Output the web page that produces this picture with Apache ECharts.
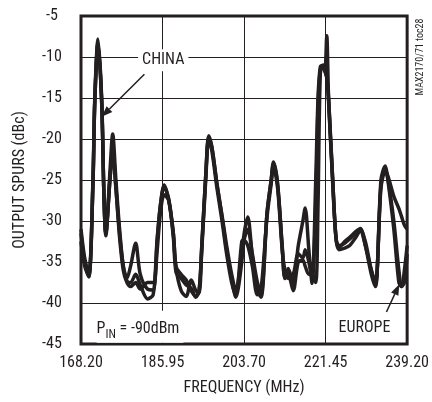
<!DOCTYPE html>
<html><head><meta charset="utf-8">
<script src="https://cdn.jsdelivr.net/npm/echarts@6/dist/echarts.min.js"></script>
<style>html,body{margin:0;padding:0;background:#fff}#c{width:432px;height:402px}</style>
</head><body><div id="c"></div>
<script>
// Axis definitions
const FREQ_MIN = 168.2, FREQ_MAX = 239.2, FREQ_STEP = 17.75;
const DB_MIN = -45, DB_MAX = -5, DB_STEP = 5;

// Frequency sample points (MHz)
const freq = [168.2,169.0,169.9,170.8,171.2,171.9,172.7,173.2,173.6,174.5,
  175.1,175.8,176.6,177.4,178.2,179.0,180.1,181.1,182.7,183.9,
  184.8,185.5,186.3,187.3,188.3,188.9,190.0,191.1,192.2,193.2,
  193.9,194.5,195.4,196.0,196.7,197.8,198.9,199.9,201.0,201.9,
  203.2,203.6,204.5,205.5,206.6,207.4,208.7,209.6,210.1,211.0,
  212.0,212.6,213.3,214.4,215.5,216.5,217.0,217.8,218.5,219.3,
  219.8,220.3,220.9,221.3,221.7,222.1,223.0,223.7,224.3,225.6,
  226.7,228.0,229.0,230.1,231.4,232.3,233.5,234.4,235.0,236.3,
  237.4,238.0,238.6,239.2];

// Output spurs (dBc)
const china = [-31.5,-35,-36.8,-25,-15,-7.8,-15,-27,-31.8,-24,
  -19.4,-25,-31,-35.5,-37,-35.5,-32.7,-36.5,-38.3,-38.4,
  -32.3,-28,-25.6,-27.5,-31.5,-35.6,-36.5,-37.2,-38.5,-39.2,
  -38.5,-33,-24,-19.6,-21,-25.5,-29.5,-33.5,-37,-39.3,
  -35,-32,-29.5,-34.3,-38.4,-39.3,-29,-25,-22.8,-25.5,
  -33.2,-37,-35.8,-37.5,-33,-30,-28.4,-33.5,-37.6,-25,
  -15,-11.2,-11,-11.7,-7.4,-15,-25,-32,-33.3,-32.5,
  -32,-31.3,-30.9,-33,-36.5,-38,-25,-23.3,-25,-31,
  -37.5,-38,-36,-33];
const europe = [-31,-34.5,-36.5,-25.5,-15.5,-8.2,-15.5,-27,-31.5,-25,
  -21.5,-26,-32,-36,-37.5,-38,-37.5,-38.3,-37.5,-37.5,
  -32,-28,-25.8,-27.3,-31.5,-35.8,-38.5,-39.2,-37.2,-38.5,
  -38.8,-33,-24,-19.8,-21,-25.5,-29.3,-33,-36.5,-38.5,
  -34,-32.5,-31,-34,-37.5,-38.8,-29,-25,-23,-25.5,
  -33,-37,-36.5,-38.5,-35,-34.8,-35.5,-36.5,-36.5,-37.5,
  -28,-12,-11,-11.7,-12.5,-15,-25,-32,-33.5,-33.3,
  -33,-32,-31.2,-33,-36,-37.8,-25.5,-23.5,-24.8,-30,
  -36,-38,-37.5,-34];
const third = [-32.5,-35.5,-36.8,-25.5,-15.5,-8.2,-15.5,-27,-31.5,-25,
  -21.3,-26,-31.5,-35.5,-37.3,-37.5,-36.5,-37.8,-39.5,-39,
  -33.5,-29,-26.8,-27.5,-32,-36.3,-37,-37.8,-38.2,-39.3,
  -38.5,-33.5,-24.5,-20,-21.5,-26,-30,-34,-37.5,-39,
  -32.5,-32.3,-33,-35.5,-39,-38.3,-29.5,-25.5,-23.3,-26,
  -33.5,-36,-37,-36.5,-34,-34.5,-33.5,-35,-37,-28,
  -16,-11.5,-11.2,-11.7,-12.5,-15.5,-25.5,-32,-33,-32.7,
  -32.2,-31.5,-31,-32.5,-36,-37.5,-26,-24,-24.5,-27,
  -28.5,-29.5,-30.5,-31];

const INK = '#231f20';
const FONT = "'Liberation Sans Narrow','Arial Narrow','Roboto Condensed','Liberation Sans',sans-serif";

const chart = echarts.init(document.getElementById('c'), null, {renderer: 'canvas'});

function pairs(vals) { return freq.map((f, i) => [f - FREQ_MIN, vals[i]]); }

const lineSeries = (name, vals) => ({
  name, type: 'line', data: pairs(vals), showSymbol: false, smooth: 0.3,
  lineStyle: {color: INK, width: 3.5}, z: 3, animation: false
});

chart.setOption({
  animation: false,
  backgroundColor: '#fff',
  grid: {left: 81, right: 22, top: 16, bottom: 58, show: true, borderColor: INK, borderWidth: 3, backgroundColor: 'transparent'},
  xAxis: {
    type: 'value', min: 0, max: FREQ_MAX - FREQ_MIN, interval: FREQ_STEP,
    name: 'FREQUENCY (MHz)', nameLocation: 'middle', nameGap: 36,
    nameTextStyle: {fontFamily: FONT, fontSize: 16, color: INK},
    axisLine: {show: false}, axisTick: {show: false},
    axisLabel: {fontFamily: FONT, fontSize: 16, color: INK, margin: 11,
      formatter: v => (v + FREQ_MIN).toFixed(2)},
    splitLine: {show: true, lineStyle: {color: INK, width: 1}}
  },
  yAxis: {
    type: 'value', min: DB_MIN, max: DB_MAX, interval: DB_STEP,
    name: 'OUTPUT SPURS (dBc)', nameLocation: 'middle', nameGap: 53,
    nameTextStyle: {fontFamily: FONT, fontSize: 16, color: INK},
    axisLine: {show: false}, axisTick: {show: false},
    axisLabel: {fontFamily: FONT, fontSize: 16, color: INK, margin: 29, align: 'center'},
    splitLine: {show: true, lineStyle: {color: INK, width: 1}}
  },
  series: [lineSeries('CHINA', china), lineSeries('EUROPE', europe), lineSeries('OTHER', third)]
});

// Annotations (data coordinates)
const annChina = {f: 186.1, v: -10.4};
const annChinaArrow = [[182.0, -12.1], [172.7, -17.3]];
const annEurope = {f: 229.9, v: -43.05};
const annEuropeArrow = [[234.7, -41.1], [237.5, -37.7]];
const annPin = {f: 171.6, v: -42.9};

function px(f, v) { return chart.convertToPixel({gridIndex: 0}, [f - FREQ_MIN, v]); }
function arrow(a) {
  const p0 = px(a[0][0], a[0][1]), p1 = px(a[1][0], a[1][1]);
  const dx = p1[0] - p0[0], dy = p1[1] - p0[1], L = Math.hypot(dx, dy);
  const ux = dx / L, uy = dy / L, hl = 11, hw = 4;
  const bx = p1[0] - ux * hl, by = p1[1] - uy * hl;
  return [
    {type: 'line', shape: {x1: p0[0], y1: p0[1], x2: bx, y2: by}, style: {stroke: INK, lineWidth: 1.5}, z: 10},
    {type: 'polygon', shape: {points: [[p1[0], p1[1]], [bx - uy * hw, by + ux * hw], [bx + uy * hw, by - ux * hw]]}, style: {fill: INK}, z: 10}
  ];
}
const pc = px(annChina.f, annChina.v), pe = px(annEurope.f, annEurope.v), pp = px(annPin.f, annPin.v);
chart.setOption({
  graphic: [
    {type: 'text', x: pc[0], y: pc[1], z: 9, style: {text: 'CHINA', font: '16px ' + FONT, fill: INK, align: 'center', verticalAlign: 'middle', backgroundColor: '#fff', padding: [3, 4]}},
    ...arrow(annChinaArrow),
    {type: 'text', x: pe[0], y: pe[1], z: 9, style: {text: 'EUROPE', font: '16px ' + FONT, fill: INK, align: 'center', verticalAlign: 'middle'}},
    ...arrow(annEuropeArrow),
    {type: 'text', x: pp[0], y: pp[1], z: 9, style: {
      text: '{a|P}{b|IN}{a| = -90dBm}', align: 'left', verticalAlign: 'middle', backgroundColor: '#fff', padding: [6, 4, 6, 0],
      rich: {a: {font: '16px ' + FONT, fill: INK, lineHeight: 20, verticalAlign: 'bottom'},
             b: {font: '12px ' + FONT, fill: INK, lineHeight: 20, verticalAlign: 'bottom', padding: [0, 0, -4, 0]}}}},
    {type: 'text', x: 420, y: 57, rotation: Math.PI / 2, z: 9, style: {text: 'MAX2170/71 toc28', font: '10px ' + FONT, fill: INK, align: 'center', verticalAlign: 'middle'}}
  ]
});
</script>
</body></html>
